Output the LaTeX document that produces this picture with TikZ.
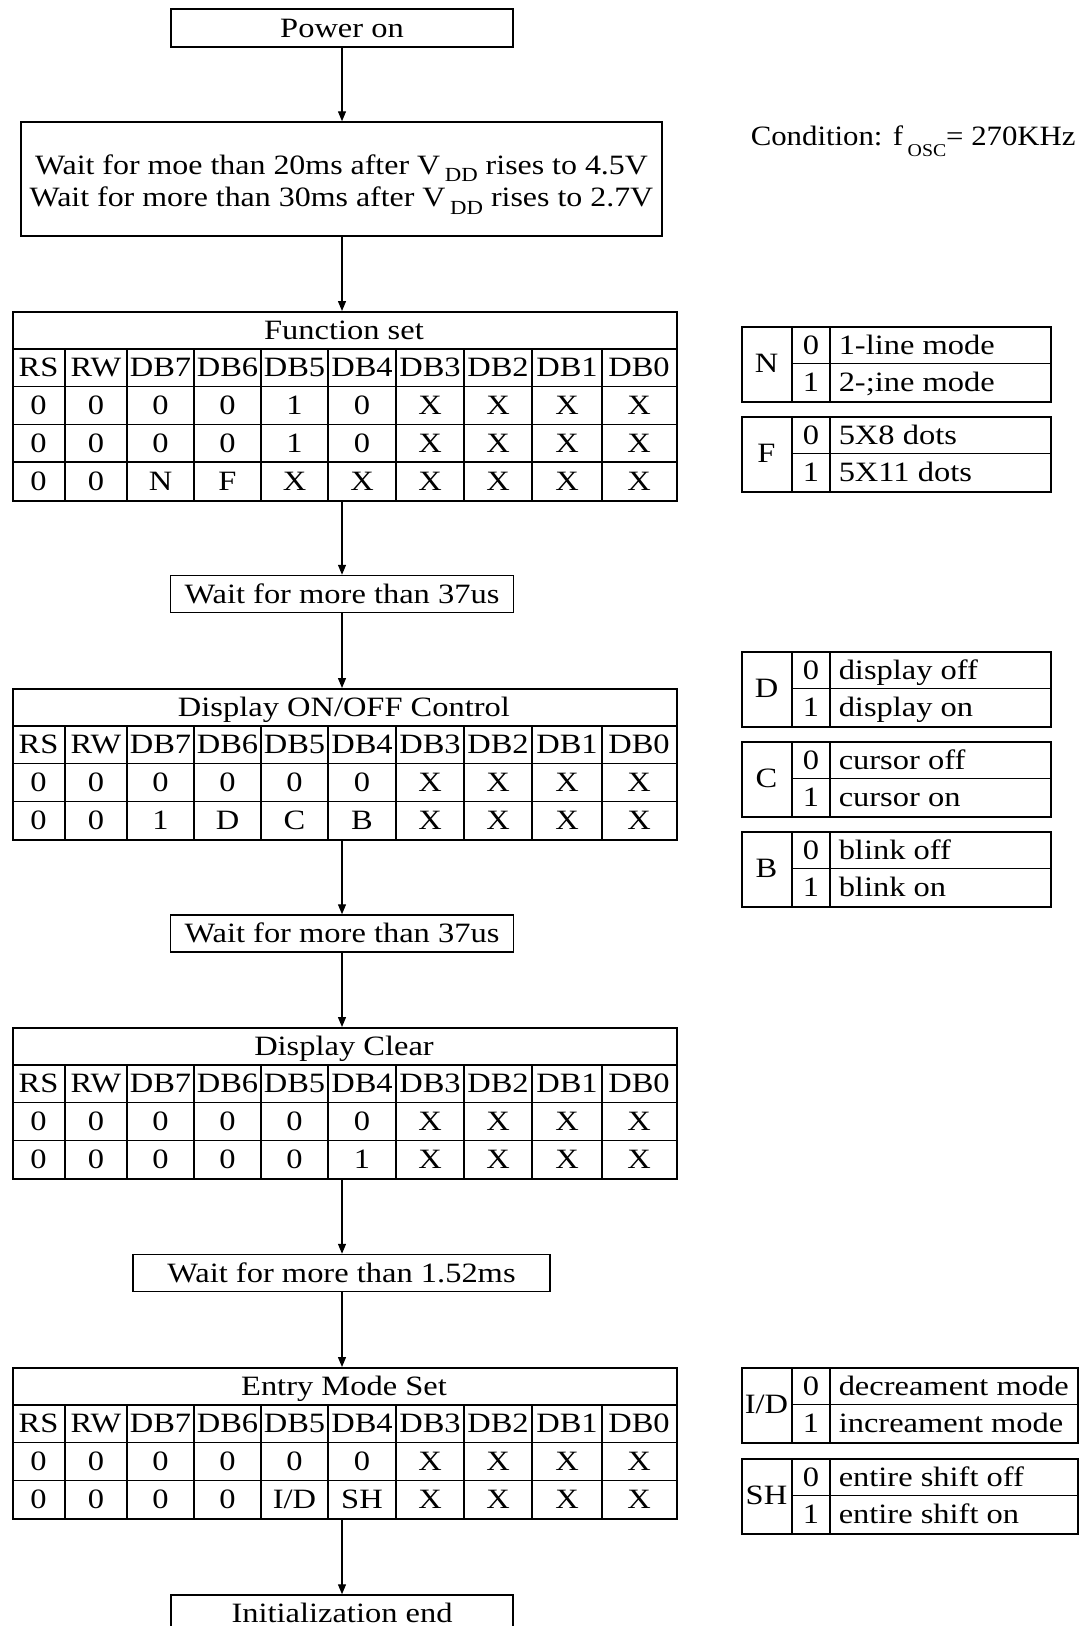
\documentclass[tikz,border=0pt]{standalone}
\usepackage{fontspec}
\setmainfont{Liberation Serif}[FakeStretch=1.16]
\newfontfamily\condfont{Liberation Serif}[FakeStretch=1.1]
\newfontfamily\waitfont{Liberation Serif}[FakeStretch=1.14]
\usetikzlibrary{arrows.meta}
\newcommand\mysub[3]{\raisebox{-#2pt}{\fontsize{#3}{#3}\selectfont #1}}
\newcommand\tabrow[4]{%
 \foreach \v [count=\i] in {#4} {%
   \pgfmathsetmacro\cx{{38.5,96,160.5,227.5,294.5,362,430,498,567,639}[\i-1]}%
   \node[cell] (#1-\i) at (\cx,{#2+37.8*(#3+0.5)}) {\v};
 }}
\newcommand\cmdtable[4]{%
 \node[frame, minimum height={37.8*#3}, anchor=north west] (#1) at (12,#2) {};
 \foreach \k in {2,...,#3} \draw (12,{#2+37.8*(\k-1)}) -- (676,{#2+37.8*(\k-1)});
 \foreach \x in {65,127,194,261,328,396,464,532,602} \draw (\x,{#2+37.8}) -- (\x,{#2+37.8*#3});
 \node[cell] (#1-title) at (344,{#2+18.9}) {#4};
 \tabrow{#1-h}{#2}{1}{RS,RW,DB7,DB6,DB5,DB4,DB3,DB2,DB1,DB0}
}
\newcommand\legtab[6]{%
 \node[draw, inner sep=0pt, minimum width={#3-741}, minimum height=75, anchor=north west] (#1) at (741,#2) {};
 \draw (792,#2) -- (792,{#2+75});
 \draw (830,#2) -- (830,{#2+75});
 \draw (792,{#2+37.5}) -- (#3,{#2+37.5});
 \node[cell] (#1-l) at (766.5,{#2+37.5}) {#4};
 \node[cell] (#1-0) at (811,{#2+18.75}) {0};
 \node[cell] (#1-1) at (811,{#2+56.25}) {1};
 \node[cell, anchor=west] (#1-t0) at (838,{#2+18.75}) {#5};
 \node[cell, anchor=west] (#1-t1) at (838,{#2+56.25}) {#6};
}
\begin{document}
\begin{tikzpicture}[x=1pt,y=-1pt, font=\fontsize{28}{32}\selectfont, line width=1.5pt,
 cell/.style={inner sep=0pt, text height=18.5pt, text depth=0pt},
 frame/.style={draw, inner sep=0pt, minimum width=664pt},
 box/.style={draw, inner sep=0pt, text height=18.5pt, text depth=0pt, minimum height=37pt},
 arr/.style={-{Triangle[length=10pt,width=8pt]}, line width=1.3pt}]
\fill[white] (0,0) rectangle (1080,1626);
\useasboundingbox (0,0) rectangle (1080,1626);

% flow boxes
\node[box, minimum width=342pt, minimum height=38pt] (pwr) at (342,28) {Power on};
\node[draw, inner sep=0pt, minimum width=641pt, minimum height=114pt] (wait1) at (341.5,179) {};
\node[anchor=base, inner sep=0pt] (wait1a) at (341.5,174) {\waitfont Wait for moe than 20ms after V\,\mysub{DD}{7.5}{20} rises to 4.5V};
\node[anchor=base, inner sep=0pt] (wait1b) at (341.5,206.5) {\waitfont Wait for more than 30ms after V\,\mysub{DD}{7.5}{20} rises to 2.7V};
\node[anchor=base west, inner sep=0pt] (cond) at (750,145) {\condfont Condition: f\,\mysub{OSC}{11}{18}= 270KHz};

\cmdtable{fs}{311}{5}{Function set}
\tabrow{fs-a}{311}{2}{0,0,0,0,1,0,X,X,X,X}
\tabrow{fs-b}{311}{3}{0,0,0,0,1,0,X,X,X,X}
\tabrow{fs-c}{311}{4}{0,0,N,F,X,X,X,X,X,X}

\node[box, minimum width=343pt] (w37a) at (342,594) {Wait for more than 37us};

\cmdtable{dc}{688}{4}{Display ON/OFF Control}
\tabrow{dc-a}{688}{2}{0,0,0,0,0,0,X,X,X,X}
\tabrow{dc-b}{688}{3}{0,0,1,D,C,B,X,X,X,X}

\node[box, minimum width=343pt] (w37b) at (342,933.5) {Wait for more than 37us};

\cmdtable{cl}{1027}{4}{Display Clear}
\tabrow{cl-a}{1027}{2}{0,0,0,0,0,0,X,X,X,X}
\tabrow{cl-b}{1027}{3}{0,0,0,0,0,1,X,X,X,X}

\node[box, minimum width=417pt] (w152) at (341.5,1273) {Wait for more than 1.52ms};

\cmdtable{em}{1367}{4}{Entry Mode Set}
\tabrow{em-a}{1367}{2}{0,0,0,0,0,0,X,X,X,X}
\tabrow{em-b}{1367}{3}{0,0,0,0,I/D,SH,X,X,X,X}

\node[box, minimum width=342pt] (init) at (342,1613.5) {Initialization end};

% connectors
\draw[arr] (pwr.south) -- (pwr.south |- wait1.north);
\draw[arr] (pwr.south |- wait1.south) -- (pwr.south |- fs.north);
\draw[arr] (pwr.south |- fs.south) -- (pwr.south |- w37a.north);
\draw[arr] (pwr.south |- w37a.south) -- (pwr.south |- dc.north);
\draw[arr] (pwr.south |- dc.south) -- (pwr.south |- w37b.north);
\draw[arr] (pwr.south |- w37b.south) -- (pwr.south |- cl.north);
\draw[arr] (pwr.south |- cl.south) -- (pwr.south |- w152.north);
\draw[arr] (pwr.south |- w152.south) -- (pwr.south |- em.north);
\draw[arr] (pwr.south |- em.south) -- (pwr.south |- init.north);

% legends
\legtab{lN}{326}{1050}{N}{1-line mode}{2-;ine mode}
\legtab{lF}{416}{1050}{F}{5X8 dots}{5X11 dots}
\legtab{lD}{651}{1050}{D}{display off}{display on}
\legtab{lC}{741}{1050}{C}{cursor off}{cursor on}
\legtab{lB}{831}{1050}{B}{blink off}{blink on}
\legtab{lI}{1367}{1077}{I/D}{decreament mode}{increament mode}
\legtab{lS}{1458}{1077}{SH}{entire shift off}{entire shift on}
\end{tikzpicture}
\end{document}
